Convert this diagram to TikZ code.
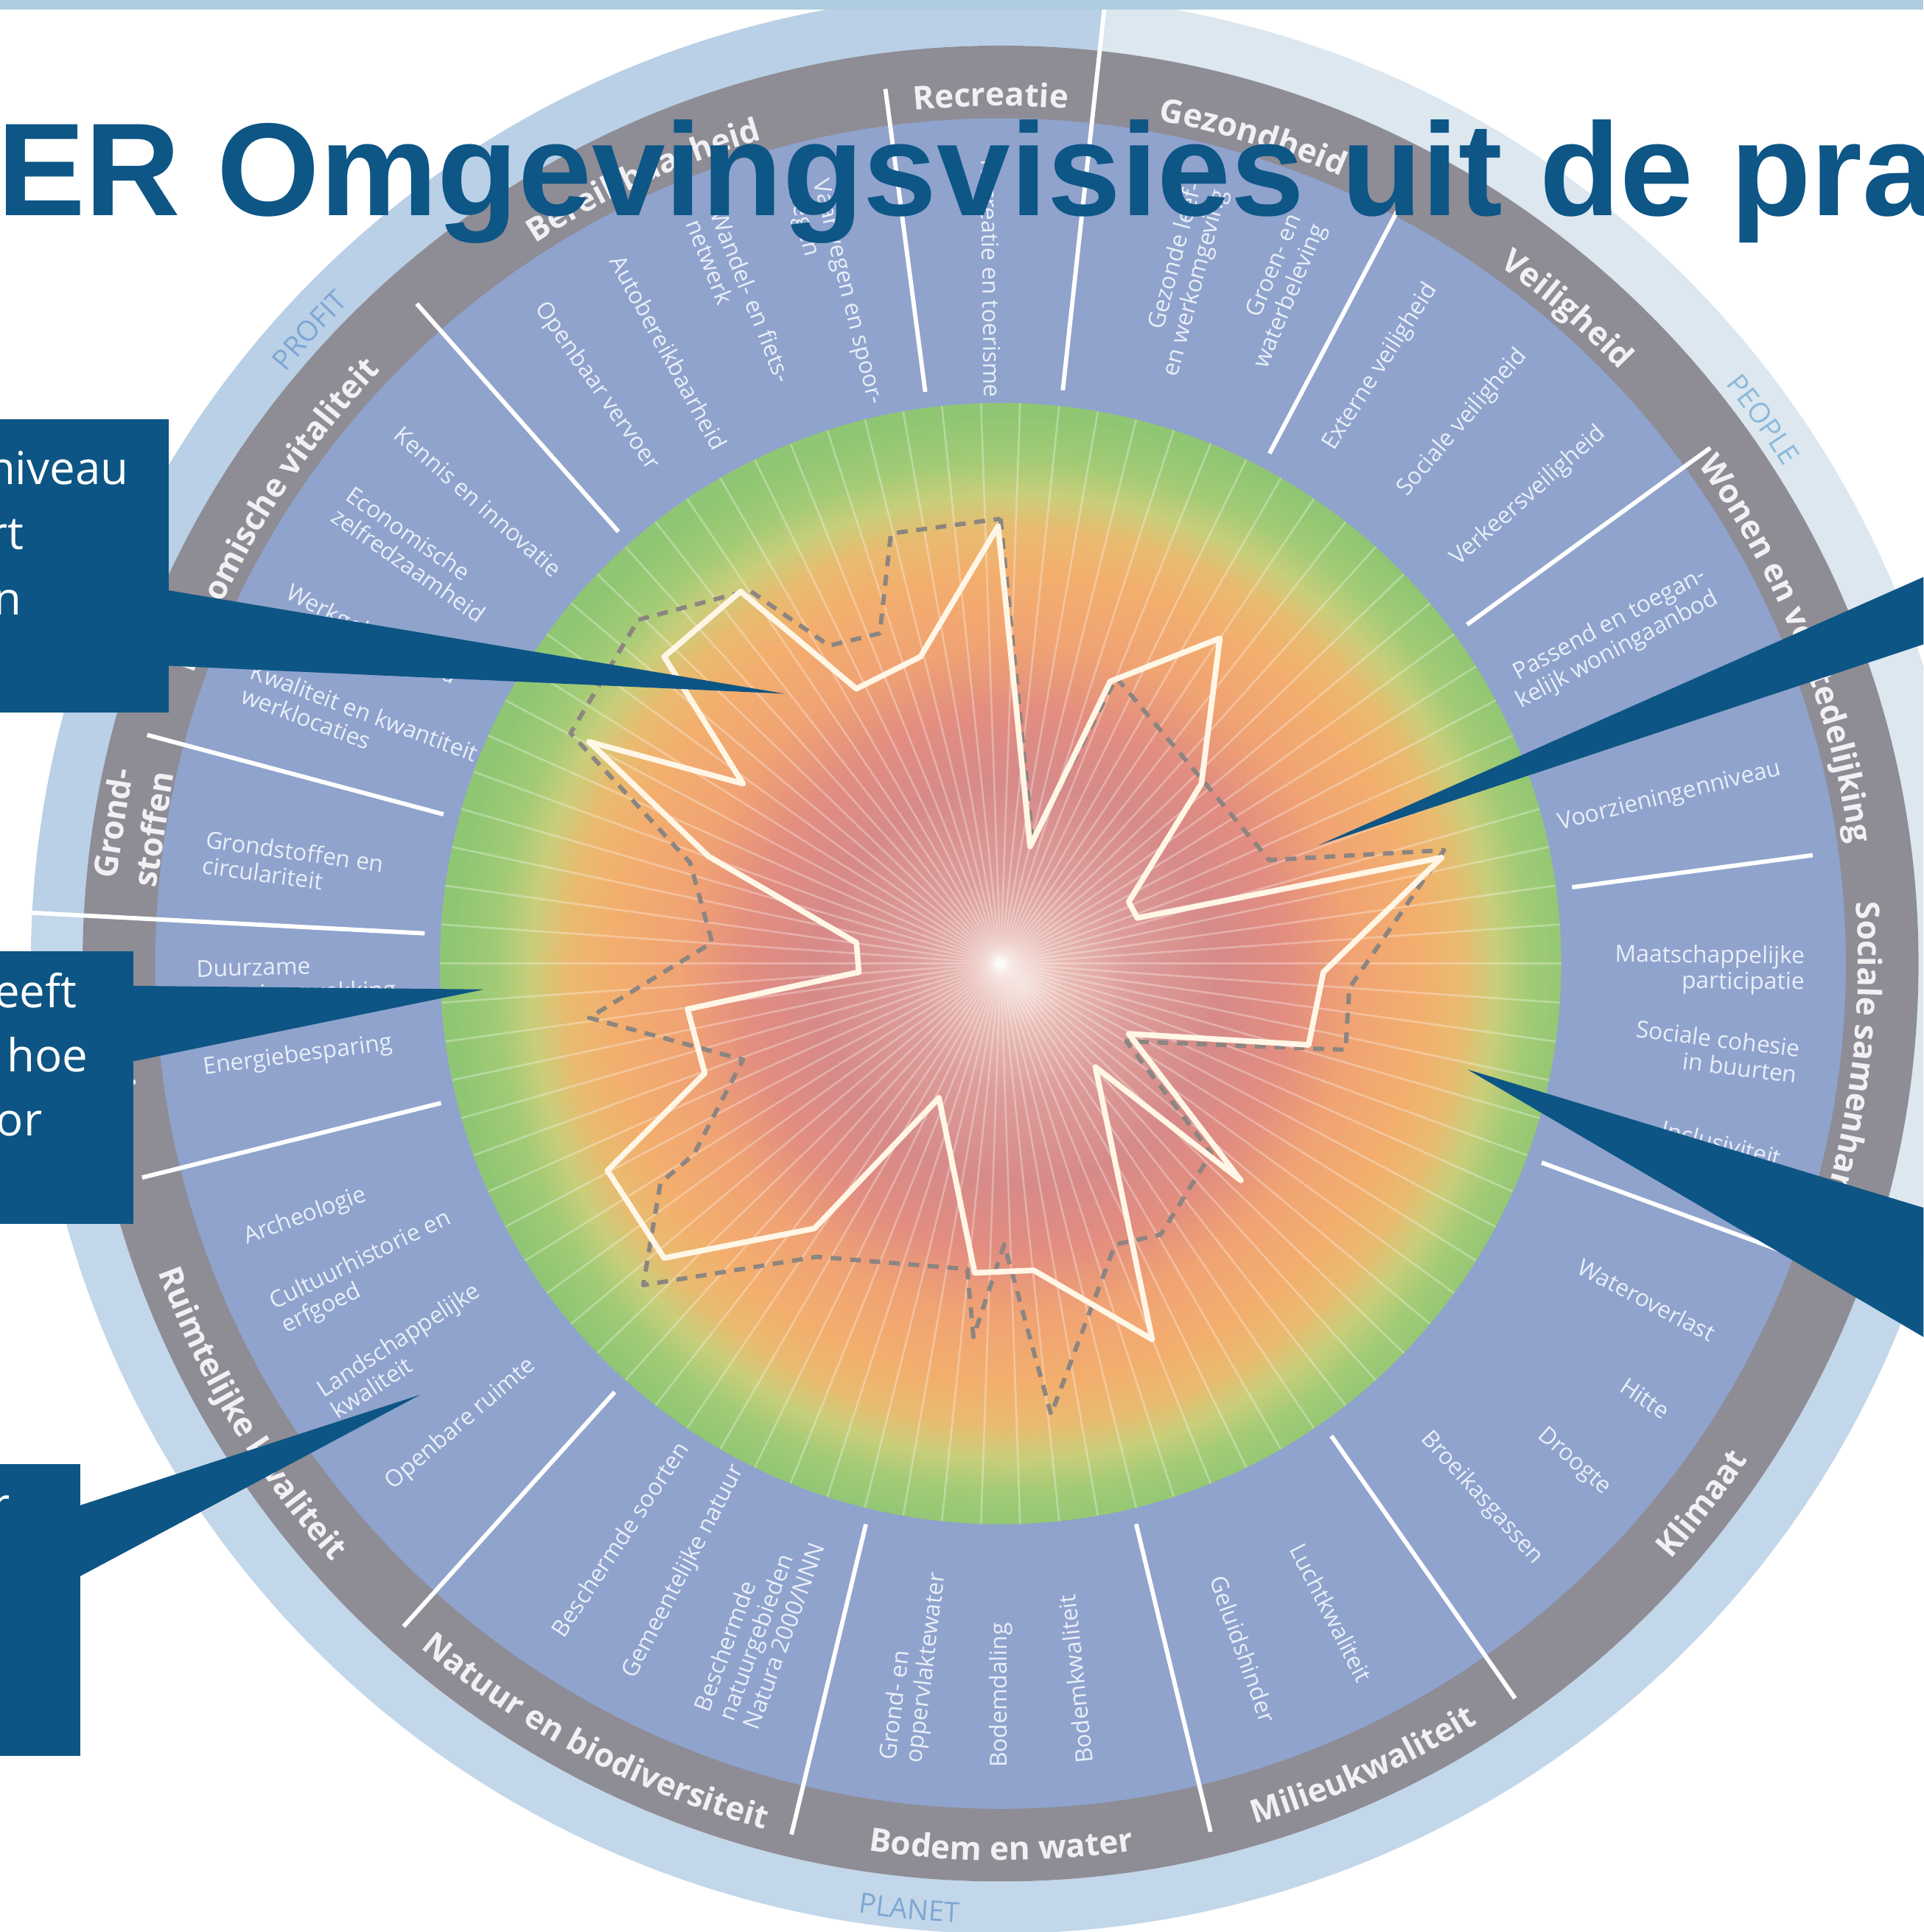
\documentclass[tikz,border=0pt]{standalone}
\usepackage{fontspec}
\setmainfont{Open Sans}
\newfontfamily\titlefont{Liberation Sans}
\usetikzlibrary{decorations.text}

\definecolor{titleblue}{HTML}{0D5686}
\definecolor{calloutblue}{HTML}{0D5584}
\definecolor{ringblue}{HTML}{8FA3CD}
\definecolor{ringgray}{HTML}{8E8C95}
\definecolor{profitring}{HTML}{B9D0E6}
\definecolor{peoplering}{HTML}{DCE7F0}
\definecolor{planetring}{HTML}{C3D7EA}
\definecolor{ringlabel}{HTML}{7FA6D4}
\definecolor{peoplelabel}{HTML}{8DB9D8}
\definecolor{ringtext}{HTML}{F1F0F3}
\definecolor{itemtext}{HTML}{E9EEF8}
\definecolor{topbar}{HTML}{AFCDDF}
\definecolor{dashgray}{HTML}{8C8580}
\definecolor{scorewhite}{HTML}{FFF6E6}
% colours of the score disc, from the centre outwards
\definecolor{dcore}{HTML}{F4DCD6}
\definecolor{dglow}{HTML}{E8BAB3}
\definecolor{dpink}{HTML}{DC9C99}
\definecolor{drose}{HTML}{D68A89}
\definecolor{dred}{HTML}{E28D80}
\definecolor{dorange}{HTML}{F0A373}
\definecolor{damber}{HTML}{F3AE6E}
\definecolor{dsand}{HTML}{E9BB70}
\definecolor{dlime}{HTML}{C9CE7A}
\definecolor{dleaf}{HTML}{A3CB76}
\definecolor{dgreen}{HTML}{8FC673}

\pgfdeclareradialshading{disk}{\pgfpoint{1bp}{-1bp}}{%
  color(0bp)=(dcore); color(2bp)=(dglow); color(5bp)=(dpink); color(9bp)=(drose);
  color(12bp)=(dred); color(15bp)=(dorange); color(18bp)=(damber); color(20bp)=(dsand);
  color(21.5bp)=(dlime); color(23bp)=(dleaf); color(25bp)=(dgreen); color(50bp)=(dgreen)}

\newcommand\itemfont{\fontsize{5.4}{6}\selectfont}
\newcommand\ringfont{\bfseries\fontsize{7.5}{9.5}\selectfont}
\newcommand\labelfont{\fontsize{6.5}{8}\selectfont}
\newcommand\calloutfont{\fontsize{10.5}{15}\selectfont}

% text along an arc: start angle, end angle, radius, colour, font, text
\newcommand\arclabel[6]{%
  \path[decorate,decoration={text along path,text align=center,text color=#4,text={|#5|#6}}]
    (#1:#3) arc[start angle=#1,end angle=#2,radius=#3];}

\begin{document}
\begin{tikzpicture}[x=0.01cm,y=0.01cm,
    calloutbox/.style={fill=calloutblue,inner sep=0pt,outer sep=0pt,anchor=north east},
    callouttext/.style={text=white,font=\calloutfont,inner sep=0pt,anchor=base east},
    callout/.style={fill=calloutblue},
    itemlabel/.style={text=itemtext,font=\itemfont,inner sep=0.5pt},
    ringtitle/.style={text=ringtext,font=\ringfont,inner sep=0pt},
    sepline/.style={white,line width=1pt},
    spoke/.style={white,opacity=0.3,line width=0.45pt},
    scoreline/.style={scorewhite,line width=1.3pt,line join=round},
    targetline/.style={dashgray,line width=1pt,dash pattern=on 2.5pt off 2pt,line join=round},
    titletext/.style={text=titleblue,font=\titlefont\bfseries\fontsize{30.5}{35}\selectfont,inner sep=0pt,anchor=base west}]

  % slide frame
  \clip (-812,-786) rectangle (749,782);
  \fill[white] (-812,-786) rectangle (749,782);

  % outer ring: profit, planet, people
  \fill[profitring] (83.8:745) arc[start angle=83.8,end angle=177,radius=745]
    -- (177:787) arc[start angle=177,end angle=83.8,radius=787] -- cycle;
  \fill[planetring] (177:745) arc[start angle=177,end angle=339.8,radius=745]
    -- (339.8:787) arc[start angle=339.8,end angle=177,radius=787] -- cycle;
  \fill[peoplering] (-20.2:745) arc[start angle=-20.2,end angle=83.8,radius=745]
    -- (83.8:787) arc[start angle=83.8,end angle=-20.2,radius=787] -- cycle;

  % grey ring with themes, blue ring with aspects, score disc
  \fill[ringgray] (0,0) circle (745);
  \fill[ringblue] (0,0) circle (686);
  \shade[shading=disk] (0,0) circle (455);
  \foreach \s in {0,4,...,356}
    \draw[spoke] (0,0) -- (\s:455);

  % separators between the themes
  \foreach \a/\rr in {97.5/716, 83.8/787, 62.2/690, 36/712, 7.6/665, -20.2/787, -55/728,
      -76.4/725, 256.5/727, 228/724, 194/718, 177/787, 165/717, 131.5/715}
    \draw[sepline] (\a:468) -- (\a:\rr);

  % aspects
  \foreach \ang/\txt [count=\k] in {
      90.8/{Recreatie en toerisme},
      104/{Vaarwegen en spoor-\\wegen},
      111.5/{Wandel- en fiets-\\netwerk},
      118.5/{Autobereikbaarheid},
      125/{Openbaar vervoer},
      138.5/{Kennis en innovatie},
      145/{Economische\\zelfredzaamheid},
      152.5/{Werkgelegenheid},
      159.5/{Kwaliteit en kwantiteit\\werklocaties},
      172/{Grondstoffen en\\circulariteit},
      181.5/{Duurzame\\energieopwekking},
      187.5/{Energiebesparing},
      200/{Archeologie},
      206/{Cultuurhistorie en\\erfgoed},
      213/{Landschappelijke\\kwaliteit},
      220.5/{Openbare ruimte},
      236.5/{Beschermde soorten},
      242.5/{Gemeentelijke natuur},
      250/{Beschermde\\natuurgebieden\\Natura 2000/NNN},
      263/{Grond- en\\oppervlaktewater},
      270/{Bodemdaling},
      276/{Bodemkwaliteit},
      289.5/{Geluidshinder},
      297/{Luchtkwaliteit},
      312/{Broeikasgassen},
      319/{Droogte},
      326/{Hitte},
      332.5/{Wateroverlast},
      346/{Inclusiviteit},
      353/{Sociale cohesie\\in buurten},
      359.5/{Maatschappelijke\\participatie},
      14/{Voorzieningenniveau},
      28/{Passend en toegan-\\kelijk woningaanbod},
      41.5/{Verkeersveiligheid},
      49.5/{Sociale veiligheid},
      57.5/{Externe veiligheid},
      67.5/{Groen- en\\waterbeleving},
      75/{Gezonde leef-\\en werkomgeving}} {
    \pgfmathtruncatemacro\isleft{and(\ang>90,\ang<280)}
    \ifnum\isleft=1
      \node[itemlabel,rotate=\ang+180,anchor=west,align=left] (item\k) at (\ang:655) {\txt};
    \else
      \node[itemlabel,rotate=\ang,anchor=east,align=right] (item\k) at (\ang:655) {\txt};
    \fi
  }

  % themes, upper half read clockwise
  \arclabel{97.5}{83.8}{696}{ringtext}{\ringfont}{Recreatie}
  \arclabel{131.5}{97.5}{696}{ringtext}{\ringfont}{Bereikbaarheid}
  \arclabel{165}{131.5}{696}{ringtext}{\ringfont}{Economische vitaliteit}
  \arclabel{83.8}{62.2}{696}{ringtext}{\ringfont}{Gezondheid}
  \arclabel{62.2}{36}{696}{ringtext}{\ringfont}{Veiligheid}
  \arclabel{36}{7.6}{696}{ringtext}{\ringfont}{Wonen en verstedelijking}
  \arclabel{7.6}{-20.2}{696}{ringtext}{\ringfont}{Sociale samenhang}
  \node[ringtitle,rotate=81,align=center] (grond) at (171:713) {Grond-\\stoffen};
  % themes, lower half
  \arclabel{177}{194}{728}{ringtext}{\ringfont}{Energie}
  \arclabel{194}{228}{728}{ringtext}{\ringfont}{Ruimtelijke kwaliteit}
  \arclabel{228}{256.5}{728}{ringtext}{\ringfont}{Natuur en biodiversiteit}
  \arclabel{256.5}{283.6}{728}{ringtext}{\ringfont}{Bodem en water}
  \arclabel{283.6}{305}{728}{ringtext}{\ringfont}{Milieukwaliteit}
  \arclabel{305}{339.8}{728}{ringtext}{\ringfont}{Klimaat}

  % outer ring labels
  \arclabel{147}{128}{753}{ringlabel}{\labelfont}{PROFIT}
  \arclabel{45}{26}{753}{peoplelabel}{\labelfont}{PEOPLE}
  \arclabel{255}{274}{779}{ringlabel}{\labelfont}{PLANET}

  \begin{scope}[shift={(-812,782)},y=-0.01cm]
    % target (dashed) and score (solid)
    \draw[targetline] (812,421) -- (838,682) -- (906,550) -- (975,632) -- (1030,698)
      -- (1172,690) -- (1095,802) -- (1092,852) -- (914,845) -- (983,936) -- (942,1002)
      -- (905,1010) -- (853,1148) -- (815,1010) -- (790,1085) -- (785,1030) -- (663,1020)
      -- (522,1043) -- (536,960) -- (563,937) -- (603,860) -- (478,826) -- (578,765)
      -- (560,700) -- (463,595) -- (518,503) -- (608,479) -- (673,524) -- (714,514)
      -- (723,433) -- cycle;
    \draw[scoreline] (810,427) -- (836,687) -- (901,553) -- (990,518) -- (975,636)
      -- (916,732) -- (923,745) -- (1170,696) -- (1074,789) -- (1062,848) -- (916,839)
      -- (1007,958) -- (889,866) -- (935,1087) -- (839,1031) -- (791,1033) -- (762,891)
      -- (661,997) -- (539,1021) -- (493,950) -- (572,871) -- (558,819) -- (697,789)
      -- (695,765) -- (575,695) -- (478,602) -- (603,636) -- (539,533) -- (601,480)
      -- (695,559) -- (747,533) -- cycle;

    % slide top and title
    \fill[topbar] (0,0) rectangle (1561,8);
    \node[titletext] (title) at (-3,175) {ER Omgevingsvisies uit de pra};

    % callouts on the left
    \node[calloutbox,minimum width=4cm,minimum height=2.38cm] (boxA) at (137,340) {};
    \node[callouttext] (lineA1) at (105,393) {niveau};
    \node[callouttext] (lineA2) at (20,446) {rt};
    \node[callouttext] (lineA3) at (18,499) {n};
    \coordinate (baseA1) at (130,478);
    \coordinate (baseA2) at (130,540);
    \coordinate (tipA) at (637,563);
    \fill[callout] (baseA1) -- (tipA) -- (baseA2) -- cycle;

    \node[calloutbox,minimum width=4cm,minimum height=2.21cm] (boxB) at (108,772) {};
    \node[callouttext] (lineB1) at (63,818) {eeft};
    \node[callouttext] (lineB2) at (72,870) {hoe};
    \node[callouttext] (lineB3) at (35,922) {or};
    \coordinate (baseB1) at (100,800);
    \coordinate (baseB2) at (100,863);
    \coordinate (tipB) at (393,803);
    \fill[callout] (baseB1) -- (tipB) -- (baseB2) -- cycle;

    \node[calloutbox,minimum width=4cm,minimum height=2.37cm] (boxC) at (65,1188) {};
    \node[callouttext] (lineC1) at (9,1234) {r};
    \coordinate (baseC1) at (58,1224);
    \coordinate (baseC2) at (58,1283);
    \coordinate (tipC) at (341,1132);
    \fill[callout] (baseC1) -- (tipC) -- (baseC2) -- cycle;

    % callouts from the right
    \coordinate (baseD1) at (1600,451);
    \coordinate (baseD2) at (1600,510);
    \coordinate (tipD) at (1070,686);
    \fill[callout] (baseD1) -- (tipD) -- (baseD2) -- cycle;

    \coordinate (baseE1) at (1600,992);
    \coordinate (baseE2) at (1600,1108);
    \coordinate (tipE) at (1191,868);
    \fill[callout] (baseE1) -- (tipE) -- (baseE2) -- cycle;
  \end{scope}
\end{tikzpicture}
\end{document}
